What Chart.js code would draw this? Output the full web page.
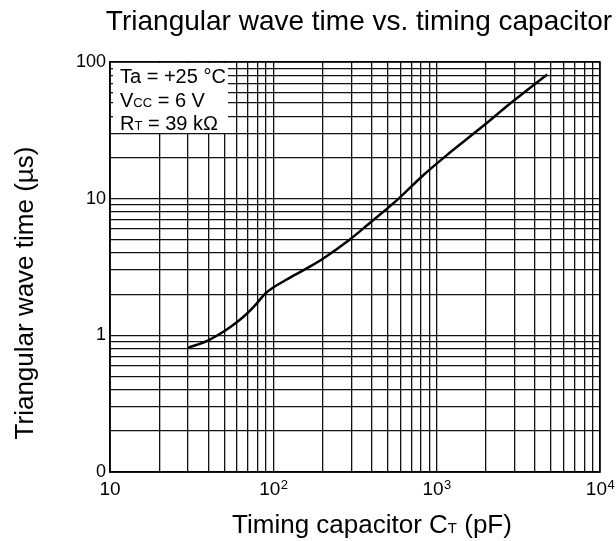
<!DOCTYPE html>
<html><head><meta charset="utf-8">
<script src="https://cdn.jsdelivr.net/npm/chart.js@4.4.1/dist/chart.umd.min.js"></script>
<style>html,body{margin:0;padding:0;background:#fff;}canvas{display:block;}</style>
</head><body>
<canvas id="c" width="616" height="541"></canvas>
<script>
// ---- data ----
const capacitance = [30, 40, 50, 60, 68, 78, 90, 120, 158, 200, 290, 385, 590, 815, 1130, 1890, 2880, 4750];
const waveTime    = [0.81, 0.92, 1.07, 1.25, 1.42, 1.68, 2.04, 2.55, 3.06, 3.62, 4.96, 6.56, 10.1, 14.6, 20.4, 33.4, 50.7, 81];
const xTickValues = [10, 100, 1000, 10000];
const xTickBase   = ['10', '10', '10', '10'];
const xTickExp    = ['', '2', '3', '4'];
const yTickValues = [0.1, 1, 10, 100];
const yTickLabels = ['0', '1', '10', '100'];
const chartTitle  = 'Triangular wave time vs. timing capacitor';
const yTitle      = 'Triangular wave time (\u00b5s)';
const xTitleParts = [['Timing capacitor C', 'n'], ['T', 's'], [' (pF)', 'n']];
const conditionLines = [
  [['Ta = +25 \u00b0C', 'n']],
  [['V', 'n'], ['CC', 's'], [' = 6 V', 'n']],
  [['R', 'n'], ['T', 's'], [' = 39 k\u03a9', 'n']]
];

const FONT = '"Liberation Sans", Arial, sans-serif';

function logGrid(min, max) {
  const out = [];
  for (let e = Math.floor(Math.log10(min)); e <= Math.ceil(Math.log10(max)); e++) {
    for (let m = 1; m <= 9; m++) {
      const v = parseFloat((m * Math.pow(10, e)).toPrecision(6));
      if (v >= min - 1e-9 && v <= max + 1e-9) out.push(v);
    }
  }
  return out;
}

function drawParts(ctx, parts, x, y, size, subSize, align) {
  let total = 0;
  const widths = parts.map(p => {
    ctx.font = (p[1] === 's' ? subSize : size) + 'px ' + FONT;
    const w = ctx.measureText(p[0]).width; total += w; return w;
  });
  let cx = align === 'center' ? x - total / 2 : x;
  ctx.textAlign = 'left';
  ctx.textBaseline = 'alphabetic';
  parts.forEach((p, i) => {
    ctx.font = (p[1] === 's' ? subSize : size) + 'px ' + FONT;
    ctx.fillText(p[0], cx, y);
    cx += widths[i];
  });
}

const decor = {
  id: 'decor',
  beforeDraw(chart) {
    const ctx = chart.ctx;
    ctx.save(); ctx.fillStyle = '#fff'; ctx.fillRect(0, 0, chart.width, chart.height); ctx.restore();
  },
  afterDraw(chart) {
    const ctx = chart.ctx;
    const a = chart.chartArea;
    const xs = chart.scales.x;
    ctx.save();
    // plot frame
    ctx.strokeStyle = '#000'; ctx.lineWidth = 1.5;
    ctx.strokeRect(a.left, a.top, a.right - a.left, a.bottom - a.top);
    // conditions box
    ctx.fillStyle = '#fff';
    ctx.fillRect(a.left + 3, a.top + 1, 115, 70);
    ctx.fillStyle = '#000';
    conditionLines.forEach((ln, i) => drawParts(ctx, ln, a.left + 10, a.top + 21 + i * 23.5, 20, 13, 'left'));
    // x tick labels (with superscripts)
    xTickValues.forEach((v, i) => {
      const px = xs.getPixelForValue(v);
      ctx.font = '19px ' + FONT;
      const wb = ctx.measureText(xTickBase[i]).width;
      ctx.font = '13px ' + FONT;
      const we = xTickExp[i] ? ctx.measureText(xTickExp[i]).width : 0;
      const x0 = px - (wb + we) / 2;
      ctx.textAlign = 'left'; ctx.textBaseline = 'alphabetic';
      ctx.font = '19px ' + FONT;
      ctx.fillText(xTickBase[i], x0, a.bottom + 23);
      if (xTickExp[i]) { ctx.font = '13px ' + FONT; ctx.fillText(xTickExp[i], x0 + wb + 0.5, a.bottom + 17); }
    });
    // titles
    ctx.font = '28px ' + FONT; ctx.textAlign = 'center'; ctx.textBaseline = 'alphabetic';
    ctx.fillText(chartTitle, 359, 30);
    drawParts(ctx, xTitleParts, 372, 533, 26, 15, 'center');
    ctx.translate(33, 293); ctx.rotate(-Math.PI / 2);
    ctx.font = '26px ' + FONT; ctx.textAlign = 'center';
    ctx.fillText(yTitle, 0, 0);
    ctx.restore();
  }
};

new Chart(document.getElementById('c'), {
  type: 'line',
  data: {
    datasets: [{
      data: capacitance.map((c, i) => ({ x: c, y: waveTime[i] })),
      borderColor: '#000', borderWidth: 2.5, pointRadius: 0,
      cubicInterpolationMode: 'monotone', fill: false
    }]
  },
  options: {
    responsive: false, animation: false, devicePixelRatio: 1,
    layout: { padding: { left: 0, right: 16, top: 62, bottom: 0 } },
    plugins: { legend: { display: false }, tooltip: { enabled: false }, title: { display: false } },
    scales: {
      x: {
        type: 'logarithmic', min: 10, max: 10000,
        afterBuildTicks: s => { s.ticks = logGrid(10, 10000).map(v => ({ value: v })); },
        afterFit: s => { s.height = 69; },
        ticks: { display: false },
        grid: { color: '#111', lineWidth: 1.3, drawTicks: false },
        border: { color: '#000', width: 1.5 }
      },
      y: {
        type: 'logarithmic', min: 0.1, max: 100,
        afterBuildTicks: s => { s.ticks = logGrid(0.1, 100).map(v => ({ value: v })); },
        afterFit: s => { s.width = 110; },
        ticks: {
          autoSkip: false, padding: 4, color: '#000',
          font: { family: FONT, size: 18 },
          callback: v => { const i = yTickValues.findIndex(t => Math.abs(t - v) < 1e-9); return i >= 0 ? yTickLabels[i] : ''; }
        },
        grid: { color: '#111', lineWidth: 1.3, drawTicks: false },
        border: { color: '#000', width: 1.5 }
      }
    }
  },
  plugins: [decor]
});
</script>
</body></html>
